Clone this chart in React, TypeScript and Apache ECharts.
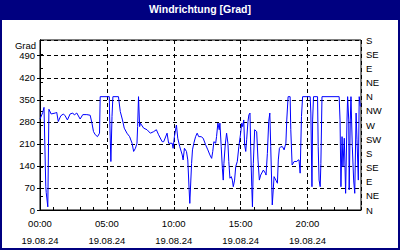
import React, { useEffect, useRef } from "react";
import * as echarts from "echarts";

const titleText = "Windrichtung [Grad]";
const yAxisName = "Grad";
const dateLabel = "19.08.24";
const compassLabels = ["N", "NE", "E", "SE", "S", "SW", "W", "NW", "N", "NE", "E", "SE", "S"];

// time in minutes since 00:00
const timeMinutes = [
  0, 12, 18, 26, 28, 35, 40, 50, 68, 75, 82, 93, 105, 113, 123, 135, 147, 154, 165, 180,
  192, 210, 225, 233, 240, 248, 258, 267, 270, 311, 312, 318, 323, 327, 352, 360, 370, 378, 390, 402,
  413, 420, 428, 435, 438, 442, 447, 450, 465, 480, 495, 510, 522, 532, 548, 555, 570, 577, 593, 597,
  603, 612, 618, 627, 638, 642, 648, 657, 663, 669, 672, 675, 680, 684, 690, 698, 705, 712, 723, 732,
  743, 753, 762, 770, 775, 780, 788, 792, 798, 804, 807, 813, 818, 822, 825, 831, 837, 843, 847, 852,
  858, 863, 867, 873, 878, 885, 892, 900, 905, 909, 914, 918, 923, 927, 933, 937, 942, 945, 950, 953,
  957, 963, 972, 978, 984, 990, 1002, 1011, 1014, 1020, 1026, 1031, 1035, 1042, 1050, 1058, 1065, 1069, 1074, 1080,
  1088, 1095, 1103, 1107, 1113, 1122, 1125, 1131, 1140, 1152, 1158, 1162, 1167, 1173, 1178, 1212, 1215, 1220, 1223, 1227,
  1245, 1248, 1252, 1257, 1260, 1265, 1342, 1346, 1350, 1355, 1359, 1365, 1371, 1377, 1380, 1385, 1387, 1392, 1395, 1401,
  1407, 1412, 1418, 1422, 1428, 1432, 1437,
];

// wind direction in degrees
const windDir = [
  289, 309, 326, 74, 55, 10, 320, 305, 308, 310, 281, 299, 305, 299, 286, 305, 308, 302, 308, 289,
  303, 303, 301, 276, 249, 239, 233, 244, 360, 360, 308, 154, 297, 360, 360, 313, 286, 260, 244, 233,
  212, 186, 196, 212, 265, 360, 265, 276, 260, 255, 244, 249, 255, 239, 217, 217, 244, 212, 212, 196,
  233, 270, 228, 201, 175, 159, 196, 186, 159, 64, 21, 69, 148, 191, 212, 233, 244, 233, 233, 228,
  207, 191, 175, 164, 186, 217, 212, 233, 276, 255, 276, 201, 133, 95, 148, 207, 244, 212, 154, 101,
  106, 95, 74, 95, 138, 154, 201, 244, 276, 265, 286, 207, 186, 223, 281, 302, 308, 201, 74, 10,
  148, 255, 249, 159, 95, 111, 127, 117, 111, 180, 281, 308, 201, 16, 106, 95, 85, 159, 196, 201,
  201, 191, 212, 286, 360, 360, 255, 143, 154, 154, 159, 159, 117, 297, 360, 360, 308, 74, 286, 360,
  360, 201, 95, 74, 148, 360, 360, 286, 74, 233, 138, 228, 53, 281, 360, 286, 64, 286, 360, 201,
  95, 53, 308, 223, 95, 360, 329,
];

const FONT = '"Liberation Sans", Arial, sans-serif';

export default function App() {
  const ref = useRef<HTMLDivElement>(null);
  useEffect(() => {
    if (!ref.current) return;
    const chart = echarts.init(ref.current, undefined, { renderer: "svg" });
    const pad = (n: number) => (n < 10 ? "0" + n : String(n));
    const data = timeMinutes.map((t, i) => [t, windDir[i]]);
    chart.setOption({
      animation: false,
      backgroundColor: "#ffffff",
      textStyle: { fontFamily: FONT },
      grid: {
        left: 40,
        right: 39,
        top: 40,
        bottom: 40,
        show: true,
        borderColor: "#000",
        borderWidth: 1,
        backgroundColor: "transparent",
      },
      graphic: [
        {
          type: "rect",
          shape: { x: 1, y: 1, width: 398, height: 248 },
          style: { fill: "none", stroke: "#000080", lineWidth: 2 },
          silent: true,
        },
        {
          type: "rect",
          shape: { x: 0, y: 0, width: 400, height: 20 },
          style: { fill: "#000080" },
          silent: true,
        },
        {
          type: "text",
          x: 200,
          y: 9,
          style: {
            text: titleText,
            fill: "#ffffff",
            font: `bold 10.5px ${FONT}`,
            textAlign: "center",
            textVerticalAlign: "middle",
          },
          silent: true,
        },
        {
          type: "text",
          x: 36,
          y: 45,
          style: {
            text: yAxisName,
            fill: "#000",
            font: `9.5px ${FONT}`,
            textAlign: "right",
            textVerticalAlign: "middle",
          },
          silent: true,
        },
      ],
      xAxis: [
        {
          type: "value",
          min: 0,
          max: 1440,
          interval: 300,
          axisLine: { show: true, lineStyle: { color: "#000", width: 1 } },
          axisTick: { show: false },
          splitLine: { show: true, lineStyle: { color: "#000", type: [4, 3], width: 1 } },
          axisLabel: {
            showMaxLabel: false,
            color: "#000",
            fontSize: 9.5,
            fontFamily: FONT,
            lineHeight: 17,
            margin: 5,
            formatter: (v: number) => {
              if (v % 300 !== 0 || v >= 1440) return "";
              return pad(Math.floor(v / 60)) + ":" + pad(v % 60) + "\n" + dateLabel;
            },
          },
        },
        {
          type: "value",
          min: 0,
          max: 1440,
          interval: 60,
          position: "bottom",
          axisLine: { show: false },
          axisTick: { show: true, inside: true, length: 3, lineStyle: { color: "#000" } },
          axisLabel: { show: false },
          splitLine: { show: false },
        },
      ],
      yAxis: [
        {
          type: "value",
          min: 0,
          max: 540,
          interval: 70,
          position: "left",
          axisLine: { show: true, lineStyle: { color: "#000", width: 1 } },
          axisTick: { show: true, inside: false, length: 3, lineStyle: { color: "#000" } },
          splitLine: { show: true, lineStyle: { color: "#000", type: [4, 3], width: 1 } },
          axisLabel: {
            showMaxLabel: false,
            color: "#000",
            fontSize: 9.5,
            fontFamily: FONT,
            margin: 5,
            formatter: (v: number) => (v <= 490 ? String(v) : ""),
          },
        },
        {
          type: "value",
          min: 0,
          max: 540,
          interval: 45,
          position: "right",
          axisLine: { show: true, lineStyle: { color: "#000", width: 1 } },
          axisTick: { show: true, inside: false, length: 3, lineStyle: { color: "#000" } },
          splitLine: { show: false },
          axisLabel: {
            color: "#000",
            fontSize: 9.5,
            fontFamily: FONT,
            margin: 5,
            formatter: (v: number) => compassLabels[Math.round(v / 45)] ?? "",
          },
        },
      ],
      series: [
        {
          type: "line",
          xAxisIndex: 0,
          yAxisIndex: 0,
          data,
          showSymbol: false,
          symbol: "none",
          lineStyle: { color: "#0000ff", width: 1 },
          clip: true,
        },
      ],
    });
    return () => chart.dispose();
  }, []);
  return (
    <div
      ref={ref}
      style={{ position: "fixed", left: 0, top: 0, width: 400, height: 250, background: "#fff" }}
    />
  );
}
